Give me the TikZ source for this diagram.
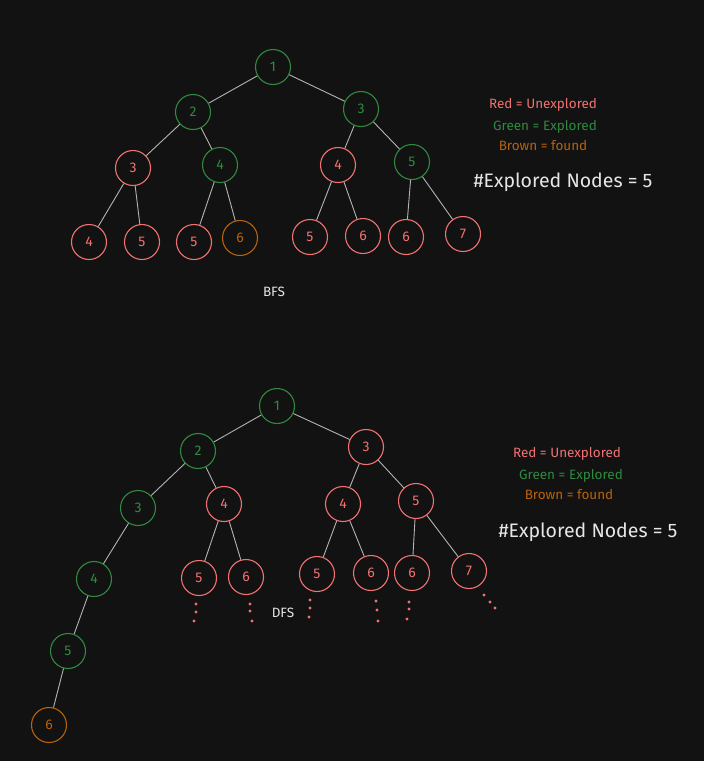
\documentclass[tikz,border=0pt]{standalone}
\usepackage{fontspec}
\setmainfont{Fira Sans}
\usepackage{xcolor}

\definecolor{bg}{HTML}{121212}
\definecolor{unexp}{HTML}{F27272}
\definecolor{expl}{HTML}{2F8A3F}
\definecolor{found}{HTML}{B8620C}
\definecolor{edgegray}{HTML}{B4B4B4}
\definecolor{ink}{HTML}{E6E6E6}

\tikzset{
  every vertex/.style={circle, draw, line width=1.1pt, minimum size=35pt, inner sep=0pt,
    font=\fontsize{14}{14}\selectfont},
  vertex r/.style={draw=unexp, text=unexp},
  vertex g/.style={draw=expl, text=expl},
  vertex b/.style={draw=found, text=found},
  tree edge/.style={draw=edgegray, line width=0.9pt},
  legend/.style={font=\fontsize{13.5}{13.5}\selectfont},
  count/.style={text=ink, font=\fontsize{19.5}{19.5}\selectfont},
  caption/.style={text=ink, font=\fontsize{13.5}{13.5}\selectfont},
  more/.style={fill=unexp}
}

\begin{document}
\begin{tikzpicture}[x=1pt, y=-1pt]

\fill [bg] (0,0) rectangle (704,761);
\useasboundingbox (0,0) rectangle (704,761);

% BFS
\foreach \x/\y/\l/\c [count=\i] in {273/67/1/g, 193/112/2/g, 361/109/3/g,
    133/168/3/r, 220/165/4/g, 338/165/4/r, 412/162/5/g,
    89/242/4/r, 142/242/5/r, 194/242/5/r, 240/238/6/b,
    310/237/5/r, 363/236/6/r, 406/237/6/r, 463/234/7/r}
  \node [every vertex/.try, vertex \c/.try] (bfs-\i) at (\x,\y) {\l};

\foreach \a/\b in {1/2, 1/3, 2/4, 2/5, 3/6, 3/7, 4/8, 4/9, 5/10, 5/11,
    6/12, 6/13, 7/14, 7/15}
  \draw [tree edge] (bfs-\a) -- (bfs-\b);

\node [caption] (bfs-name) at (274,292) {BFS};

\node [legend, text=unexp] (bfs-red) at (543,105) {Red = Unexplored};
\node [legend, text=expl] (bfs-green) at (545,127) {Green = Explored};
\node [legend, text=found] (bfs-brown) at (543,146) {Brown = found};
\node [count] (bfs-count) at (563,182) {\#Explored Nodes = 5};

% DFS
\foreach \x/\y/\l/\c [count=\i] in {277/406/1/g, 198/451/2/g, 366/447/3/r,
    138/508/3/g, 224/504/4/r, 343/504/4/r, 416/501/5/r,
    94/579/4/g, 199/578/5/r, 246/577/6/r, 317/574/5/r,
    371/573/6/r, 412/573/6/r, 469/571/7/r, 68/651/5/g, 49/725/6/b}
  \node [every vertex/.try, vertex \c/.try] (dfs-\i) at (\x,\y) {\l};

\foreach \a/\b in {1/2, 1/3, 2/4, 2/5, 3/6, 3/7, 4/8, 5/9, 5/10,
    6/11, 6/12, 7/13, 7/14, 8/15, 15/16}
  \draw [tree edge] (dfs-\a) -- (dfs-\b);

% dots under the open leaves
\foreach \x/\y in {196/604, 196/612, 194/621, 250/604, 250/611, 252/621,
    310/600, 310/608, 309/617, 376/601, 377/610, 378/621,
    409/602, 409/609, 407/619, 484/595, 490/602, 495/608}
  \fill [more] (\x,\y) circle (1.6);

\node [caption] (dfs-name) at (283,613) {DFS};

\node [legend, text=unexp] (dfs-red) at (567,454) {Red = Unexplored};
\node [legend, text=expl] (dfs-green) at (571,476) {Green = Explored};
\node [legend, text=found] (dfs-brown) at (569,495) {Brown = found};
\node [count] (dfs-count) at (588,532) {\#Explored Nodes = 5};

\end{tikzpicture}
\end{document}
